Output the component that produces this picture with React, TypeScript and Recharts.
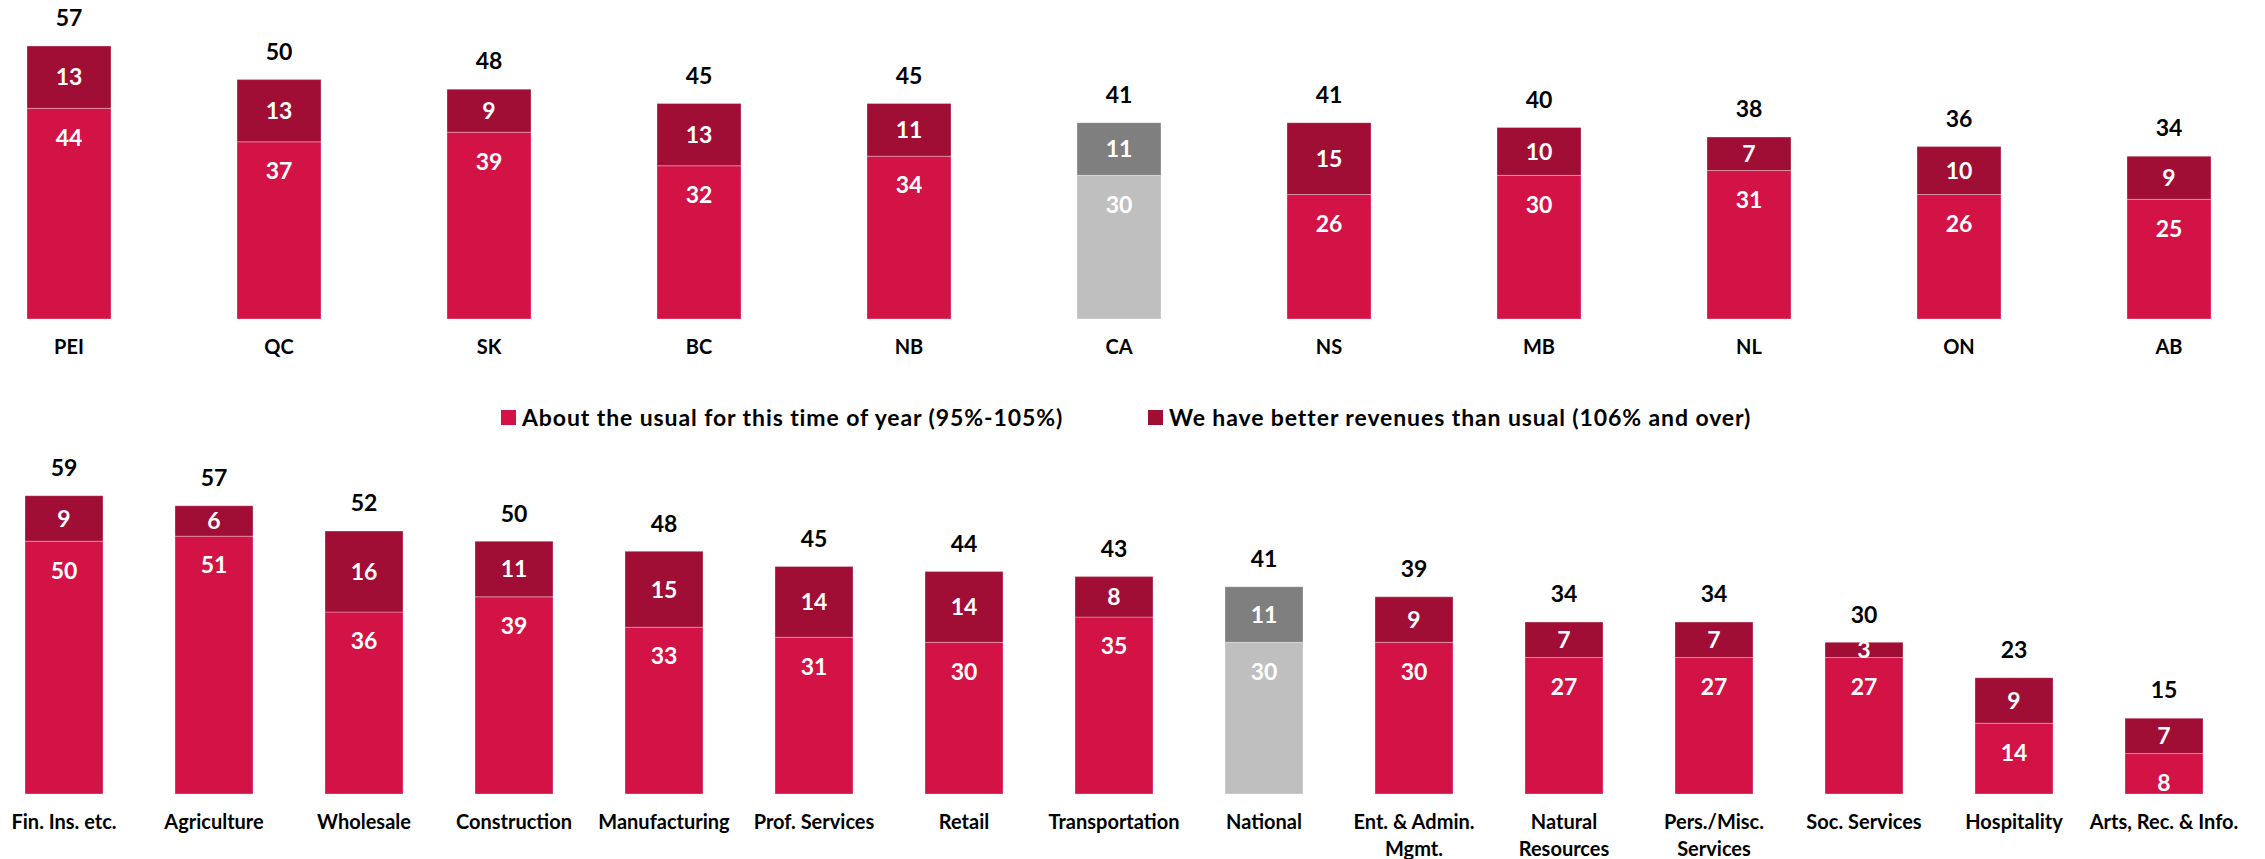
import React from 'react';
import { BarChart, Bar, XAxis, YAxis, Cell, LabelList } from 'recharts';

const provinces = ['PEI', 'QC', 'SK', 'BC', 'NB', 'CA', 'NS', 'MB', 'NL', 'ON', 'AB'];
const provUsual = [44, 37, 39, 32, 34, 30, 26, 30, 31, 26, 25];
const provBetter = [13, 13, 9, 13, 11, 11, 15, 10, 7, 10, 9];
const provTotal = [57, 50, 48, 45, 45, 41, 41, 40, 38, 36, 34];

const sectors = [
  'Fin. Ins. etc.',
  'Agriculture',
  'Wholesale',
  'Construction',
  'Manufacturing',
  'Prof. Services',
  'Retail',
  'Transportation',
  'National',
  'Ent. & Admin.\nMgmt.',
  'Natural\nResources',
  'Pers./Misc.\nServices',
  'Soc. Services',
  'Hospitality',
  'Arts, Rec. & Info.',
];
const secUsual = [50, 51, 36, 39, 33, 31, 30, 35, 30, 30, 27, 27, 27, 14, 8];
const secBetter = [9, 6, 16, 11, 15, 14, 14, 8, 11, 9, 7, 7, 3, 9, 7];
const secTotal = [59, 57, 52, 50, 48, 45, 44, 43, 41, 39, 34, 34, 30, 23, 15];

const legendLabels = [
  'About the usual for this time of year (95%-105%)',
  'We have better revenues than usual (106% and over)',
];

const highlight = ['CA', 'National'];

const RED = '#D31245';
const DARK = '#A00D35';
const GREY_LIGHT = '#BFBFBF';
const GREY_DARK = '#7F7F7F';
const FONT = 'Lato, "Open Sans", sans-serif';

const provData = provinces.map((name, i) => ({
  name,
  usual: provUsual[i],
  better: provBetter[i],
  total: provTotal[i],
}));
const secData = sectors.map((name, i) => ({
  name,
  usual: secUsual[i],
  better: secBetter[i],
  total: secTotal[i],
}));

const LABEL_SIZE = 23;
const TICK_SIZE = 20;

const CategoryTick = (props: any) => {
  const { x, y, payload } = props;
  const lines = String(payload.value).split('\n');
  return (
    <text
      x={x}
      y={y + 35}
      textAnchor="middle"
      fontFamily={FONT}
      fontWeight={700}
      fontSize={TICK_SIZE}
      fill="#000"
    >
      {lines.map((l, i) => (
        <tspan key={i} x={x} dy={i === 0 ? 0 : 26.7}>
          {l}
        </tspan>
      ))}
    </text>
  );
};

const bottomLabel = (props: any) => {
  const { x, y, width, value } = props;
  return (
    <text
      x={x + width / 2}
      y={y + 29 + LABEL_SIZE * 0.36}
      textAnchor="middle"
      fontFamily={FONT}
      fontWeight={700}
      fontSize={LABEL_SIZE}
      fill="#fff"
    >
      {value}
    </text>
  );
};

const topLabel = (props: any) => {
  const { x, y, width, height, value } = props;
  return (
    <text
      x={x + width / 2}
      y={y + height / 2 + LABEL_SIZE * 0.36}
      textAnchor="middle"
      fontFamily={FONT}
      fontWeight={700}
      fontSize={LABEL_SIZE}
      fill="#fff"
    >
      {value}
    </text>
  );
};

const totalLabel = (props: any) => {
  const { x, y, width, value } = props;
  return (
    <text
      x={x + width / 2}
      y={y - 28 + LABEL_SIZE * 0.36}
      textAnchor="middle"
      fontFamily={FONT}
      fontWeight={700}
      fontSize={LABEL_SIZE}
      fill="#000"
    >
      {value}
    </text>
  );
};

type StackProps = {
  data: any[];
  width: number;
  height: number;
  top: number;
  left: number;
  marginTop: number;
  yMax: number;
  barSize: number;
  axisHeight: number;
};

const StackChart = ({ data, width, height, top, left, marginTop, yMax, barSize, axisHeight }: StackProps) => (
  <div style={{ position: 'absolute', top, left }}>
    <BarChart
      width={width}
      height={height}
      data={data}
      margin={{ top: marginTop, right: 0, left: 0, bottom: 0 }}
      barSize={barSize}
      style={{ overflow: 'visible' }}
    >
      <XAxis
        dataKey="name"
        interval={0}
        tickLine={false}
        axisLine={false}
        tickSize={0}
        tickMargin={0}
        height={axisHeight}
        tick={<CategoryTick />}
      />
      <YAxis hide domain={[0, yMax]} />
      <Bar dataKey="usual" stackId="a" isAnimationActive={false} stroke="rgba(255,255,255,0.3)" strokeWidth={1}>
        {data.map((d, i) => (
          <Cell key={i} fill={highlight.includes(d.name) ? GREY_LIGHT : RED} />
        ))}
        <LabelList dataKey="usual" content={bottomLabel} />
      </Bar>
      <Bar dataKey="better" stackId="a" isAnimationActive={false} stroke="rgba(255,255,255,0.3)" strokeWidth={1}>
        {data.map((d, i) => (
          <Cell key={i} fill={highlight.includes(d.name) ? GREY_DARK : DARK} />
        ))}
        <LabelList dataKey="better" content={topLabel} />
        <LabelList dataKey="total" content={totalLabel} />
      </Bar>
    </BarChart>
  </div>
);

const LegendItem = ({ color, label, left }: { color: string; label: string; left: number }) => (
  <div
    style={{
      position: 'absolute',
      left,
      top: 402,
      height: 30,
      display: 'flex',
      alignItems: 'center',
      whiteSpace: 'nowrap',
      fontFamily: FONT,
      fontWeight: 700,
      fontSize: 23,
      letterSpacing: 0.9,
      color: '#000',
    }}
  >
    <span style={{ display: 'inline-block', width: 15, height: 15, background: color, marginRight: 6 }} />
    <span>{label}</span>
  </div>
);

export default function App() {
  return (
    <div
      style={{
        position: 'fixed',
        top: 0,
        left: 0,
        width: 2265,
        height: 859,
        overflow: 'hidden',
        background: '#fff',
      }}
    >
      <StackChart
        data={provData}
        width={2310}
        height={369}
        top={0}
        left={-36}
        marginTop={31.7}
        yMax={60}
        barSize={84}
        axisHeight={50}
      />
      <LegendItem color={RED} label={legendLabels[0]} left={501} />
      <LegendItem color={DARK} label={legendLabels[1]} left={1148} />
      <StackChart
        data={secData}
        width={2250}
        height={449}
        top={430}
        left={-11}
        marginTop={35.4}
        yMax={65}
        barSize={78}
        axisHeight={85}
      />
    </div>
  );
}
